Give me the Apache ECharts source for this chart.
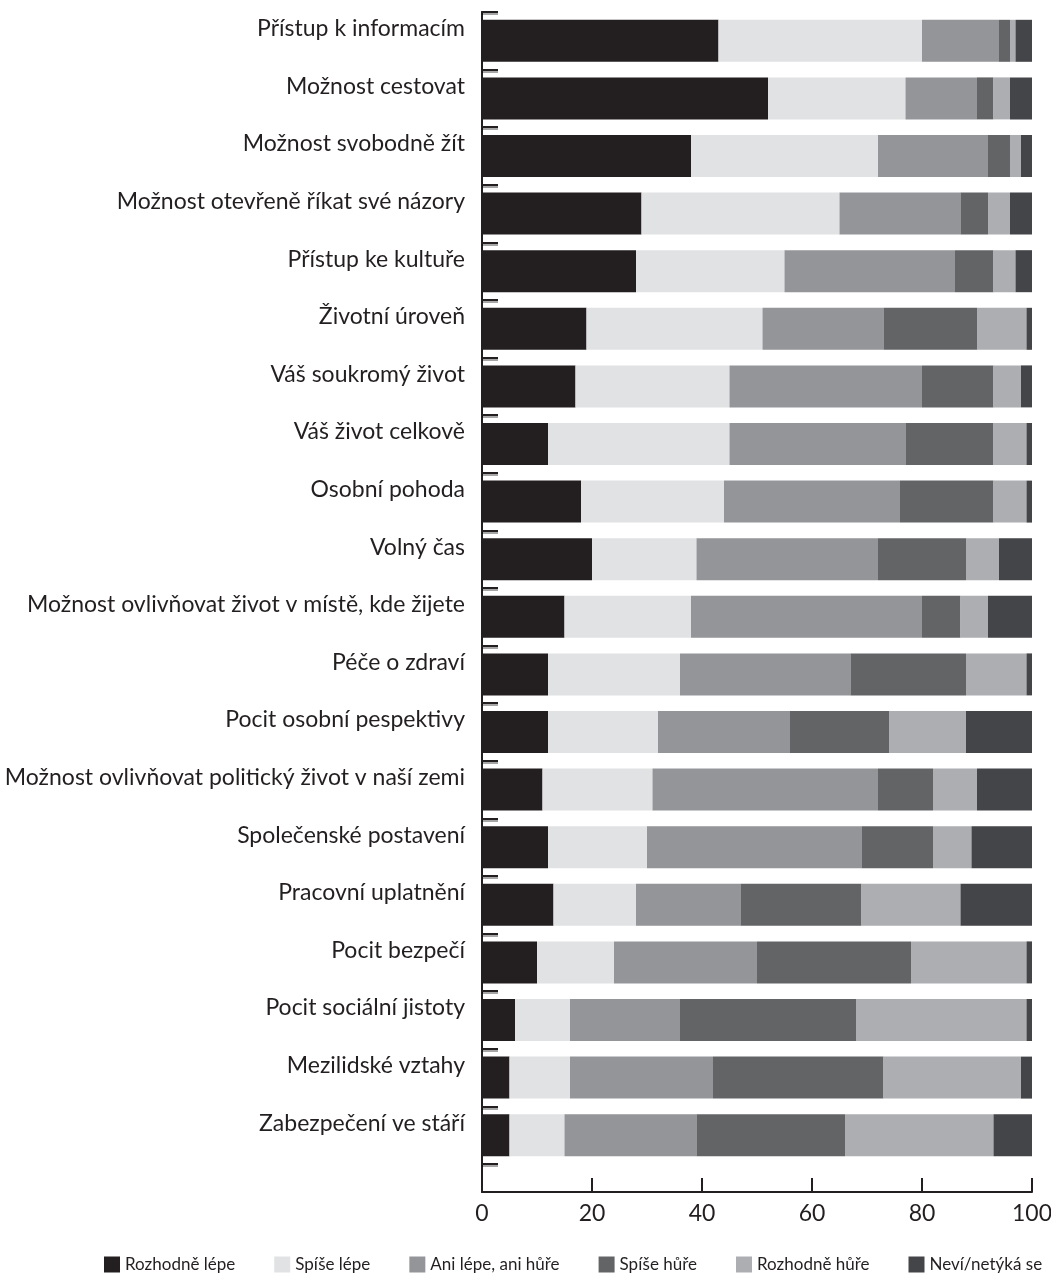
<!DOCTYPE html>
<html>
<head>
<meta charset="utf-8">
<script src="https://cdn.jsdelivr.net/npm/echarts@6/dist/echarts.min.js"></script>
<style>
html,body{margin:0;padding:0;background:#fff;}
#chart{width:1051px;height:1274px;}
</style>
</head>
<body>
<div id="chart"></div>
<script>
const categories = [
  "Přístup k informacím",
  "Možnost cestovat",
  "Možnost svobodně žít",
  "Možnost otevřeně říkat své názory",
  "Přístup ke kultuře",
  "Životní úroveň",
  "Váš soukromý život",
  "Váš život celkově",
  "Osobní pohoda",
  "Volný čas",
  "Možnost ovlivňovat život v místě, kde žijete",
  "Péče o zdraví",
  "Pocit osobní pespektivy",
  "Možnost ovlivňovat politický život v naší zemi",
  "Společenské postavení",
  "Pracovní uplatnění",
  "Pocit bezpečí",
  "Pocit sociální jistoty",
  "Mezilidské vztahy",
  "Zabezpečení ve stáří"
];
const seriesNames = ["Rozhodně lépe", "Spíše lépe", "Ani lépe, ani hůře", "Spíše hůře", "Rozhodně hůře", "Neví/netýká se"];
const rozhodneLepe  = [43, 52, 38, 29, 28, 19, 17, 12, 18, 20, 15, 12, 12, 11, 12, 13, 10,  6,  5,  5];
const spiseLepe     = [37, 25, 34, 36, 27, 32, 28, 33, 26, 19, 23, 24, 20, 20, 18, 15, 14, 10, 11, 10];
const aniLepeAniHure= [14, 13, 20, 22, 31, 22, 35, 32, 32, 33, 42, 31, 24, 41, 39, 19, 26, 20, 26, 24];
const spiseHure     = [ 2,  3,  4,  5,  7, 17, 13, 16, 17, 16,  7, 21, 18, 10, 13, 22, 28, 32, 31, 27];
const rozhodneHure  = [ 1,  3,  2,  4,  4,  9,  5,  6,  6,  6,  5, 11, 14,  8,  7, 18, 21, 31, 25, 27];
const nevi          = [ 3,  4,  2,  4,  3,  1,  2,  1,  1,  6,  8,  1, 12, 10, 11, 13,  1,  1,  2,  7];
const xTicks = [0, 20, 40, 60, 80, 100];

const colors = ["#231f20", "#e1e2e4", "#949599", "#636466", "#adaeb1", "#444548"];
const values = [rozhodneLepe, spiseLepe, aniLepeAniHure, spiseHure, rozhodneHure, nevi];
const FONT = "Lato";
const TXT = "#231f20";

const chart = echarts.init(document.getElementById('chart'), null, {renderer: 'canvas'});
const series = seriesNames.map((n, i) => ({
  name: n,
  type: 'bar',
  stack: 'total',
  xAxisIndex: 0,
  yAxisIndex: 0,
  barWidth: 42,
  itemStyle: {color: colors[i]},
  emphasis: {disabled: true},
  data: values[i]
}));

chart.setOption({
  animation: false,
  textStyle: {fontFamily: FONT, color: TXT},
  grid: [
    {left: 482, top: 12, width: 550, height: 1152, containLabel: false, outerBoundsMode: 'none'},
    {left: 482, top: 12, width: 550, height: 1180, containLabel: false, outerBoundsMode: 'none'}
  ],
  legend: {
    left: 104,
    top: 1256,
    width: 947,
    padding: 0,
    icon: 'rect',
    itemWidth: 16,
    itemHeight: 16,
    itemGap: 39,
    textStyle: {fontFamily: FONT, fontSize: 17, color: TXT},
    data: seriesNames
  },
  xAxis: [
    {gridIndex: 0, type: 'value', min: 0, max: 100, show: false},
    {
      gridIndex: 1, type: 'value', min: 0, max: 100, interval: 20,
      axisLine: {show: true, lineStyle: {color: TXT, width: 2}},
      axisTick: {show: true, inside: true, length: 14, lineStyle: {color: TXT, width: 2}},
      splitLine: {show: false},
      axisLabel: {
        fontFamily: FONT, fontSize: 23, color: TXT, margin: 10,
        formatter: v => xTicks.includes(v) ? String(v) : ''
      }
    }
  ],
  yAxis: [
    {
      gridIndex: 0, type: 'category', inverse: true, data: categories,
      axisLine: {show: true, lineStyle: {color: TXT, width: 2}},
      axisTick: {show: true, inside: true, length: 16, lineStyle: {color: TXT, width: 2, shadowColor: 'rgba(0,0,0,0.35)', shadowOffsetY: 2}},
      axisLabel: {fontFamily: FONT, fontSize: 23, color: TXT, margin: 17, verticalAlign: 'bottom', lineHeight: 24}
    },
    {
      gridIndex: 1, type: 'value', min: 0, max: 1,
      axisLine: {show: true, lineStyle: {color: TXT, width: 2}},
      axisTick: {show: false},
      axisLabel: {show: false},
      splitLine: {show: false}
    }
  ],
  series: series
});
</script>
</body>
</html>
